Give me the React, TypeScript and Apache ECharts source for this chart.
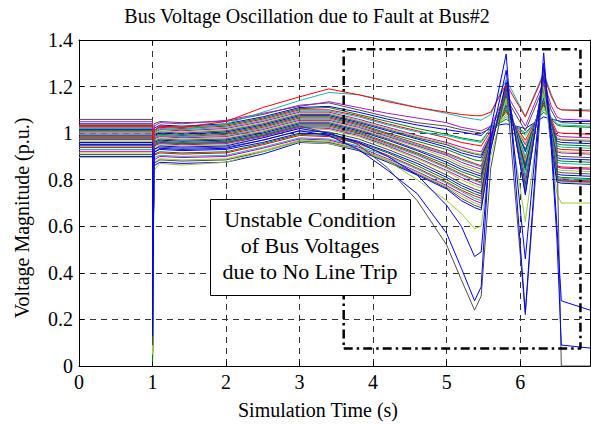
import React, { useEffect, useRef } from "react";
import * as echarts from "echarts";

// Sample instants (s) after the fault is applied at FAULT_TIME
const FAULT_TIME = 1.0;
const TIME_AFTER = [1.02, 1.1, 1.4, 2.0, 2.5, 3.0, 3.4, 3.8, 4.2, 4.6, 5.0, 5.2, 5.38, 5.47, 5.6, 5.81, 6.07, 6.32, 6.42, 6.5, 6.56, 6.95];

// Each bus: [pre-fault voltage, voltage during fault, ...voltages at TIME_AFTER] (p.u.)
const BUS_01 = [1.040, 0.15, 1.02, 1.035, 1.03, 1.04, 1.07, 1.11, 1.115, 1.09, 1.06, 1.035, 1.015, 1.005, 0.995, 0.99, 1.03, 1.04, 1.02, 1.07, 1.06, 1.055, 1.05, 1.05];
const BUS_02 = [1.035, 0.05, 1.01, 1.03, 1.025, 1.035, 1.065, 1.105, 1.11, 1.08, 1.05, 1.02, 0.995, 0.98, 0.97, 0.965, 1.02, 1.06, 1.0, 1.09, 1.06, 1.035, 1.03, 1.025];
const BUS_03 = [1.032, 0.2, 1.01, 1.025, 1.02, 1.03, 1.06, 1.1, 1.1, 1.075, 1.04, 1.01, 0.98, 0.96, 0.95, 0.945, 1.01, 1.09, 0.97, 1.12, 1.06, 1.005, 1.0, 0.995];
const BUS_04 = [1.028, 0.1, 1.005, 1.02, 1.015, 1.025, 1.055, 1.095, 1.095, 1.07, 1.035, 1.005, 0.99, 0.975, 0.965, 0.96, 1.02, 1.07, 0.99, 1.1, 1.07, 1.04, 1.035, 1.03];
const BUS_05 = [1.025, 0.08, 1.0, 1.015, 1.01, 1.02, 1.05, 1.09, 1.09, 1.06, 1.025, 0.99, 0.96, 0.94, 0.925, 0.92, 1.0, 1.1, 0.95, 1.13, 1.05, 0.99, 0.985, 0.98];
const BUS_06 = [1.022, 0.12, 1.0, 1.01, 1.005, 1.015, 1.045, 1.085, 1.085, 1.055, 1.02, 0.985, 0.955, 0.93, 0.915, 0.91, 0.995, 1.08, 0.96, 1.11, 1.04, 0.98, 0.975, 0.97];
const BUS_07 = [1.018, 0.03, 0.995, 1.005, 1.0, 1.01, 1.04, 1.08, 1.08, 1.05, 1.015, 0.98, 0.95, 0.925, 0.91, 0.905, 0.99, 1.11, 0.93, 1.14, 1.05, 0.975, 0.97, 0.965];
const BUS_08 = [1.015, 0.18, 0.99, 1.0, 0.995, 1.005, 1.035, 1.075, 1.075, 1.045, 1.01, 0.975, 0.94, 0.915, 0.9, 0.895, 0.99, 1.12, 0.92, 1.15, 1.04, 0.965, 0.96, 0.955];
const BUS_09 = [1.012, 0.04, 0.985, 0.995, 0.99, 1.0, 1.03, 1.07, 1.07, 1.04, 1.0, 0.965, 0.93, 0.905, 0.885, 0.88, 0.985, 1.1, 0.93, 1.13, 1.03, 0.955, 0.95, 0.945];
const BUS_10 = [1.008, 0.22, 0.98, 0.99, 0.985, 0.995, 1.025, 1.065, 1.065, 1.035, 0.995, 0.955, 0.915, 0.89, 0.87, 0.86, 0.98, 1.14, 0.89, 1.17, 1.03, 0.935, 0.93, 0.925];
const BUS_11 = [1.005, 0.09, 0.98, 0.99, 0.985, 0.99, 1.02, 1.06, 1.06, 1.03, 0.99, 0.95, 0.91, 0.885, 0.865, 0.855, 0.975, 1.13, 0.9, 1.16, 1.03, 0.945, 0.94, 0.935];
const BUS_12 = [1.0, 0.11, 0.975, 0.985, 0.98, 0.985, 1.015, 1.055, 1.055, 1.025, 0.985, 0.945, 0.905, 0.875, 0.855, 0.845, 0.975, 1.15, 0.87, 1.18, 1.02, 0.92, 0.915, 0.91];
const BUS_13 = [0.996, 0.06, 0.97, 0.98, 0.975, 0.98, 1.01, 1.05, 1.05, 1.02, 0.98, 0.94, 0.895, 0.865, 0.845, 0.835, 0.97, 1.14, 0.88, 1.17, 1.02, 0.925, 0.92, 0.915];
const BUS_14 = [0.992, 0.14, 0.965, 0.975, 0.97, 0.975, 1.005, 1.045, 1.045, 1.015, 0.975, 0.93, 0.885, 0.855, 0.835, 0.825, 0.97, 1.16, 0.86, 1.19, 1.02, 0.905, 0.9, 0.895];
const BUS_15 = [0.988, 0.19, 0.96, 0.97, 0.965, 0.97, 1.0, 1.04, 1.04, 1.01, 0.97, 0.925, 0.875, 0.845, 0.825, 0.815, 0.965, 1.17, 0.85, 1.2, 1.01, 0.895, 0.89, 0.885];
const BUS_16 = [0.984, 0.02, 0.955, 0.965, 0.96, 0.965, 0.995, 1.035, 1.035, 1.005, 0.96, 0.915, 0.865, 0.835, 0.815, 0.805, 0.965, 1.16, 0.84, 1.19, 1.0, 0.885, 0.88, 0.875];
const BUS_17 = [0.98, 0.24, 0.95, 0.96, 0.955, 0.96, 0.99, 1.03, 1.03, 1.0, 0.955, 0.91, 0.855, 0.825, 0.8, 0.79, 0.96, 1.19, 0.8, 1.22, 0.99, 0.86, 0.855, 0.85];
const BUS_18 = [0.976, 0.07, 0.95, 0.96, 0.955, 0.96, 0.99, 1.03, 1.025, 0.995, 0.95, 0.905, 0.85, 0.82, 0.795, 0.785, 0.96, 1.18, 0.82, 1.21, 1.0, 0.875, 0.87, 0.865];
const BUS_19 = [0.972, 0.13, 0.945, 0.955, 0.95, 0.955, 0.985, 1.025, 1.02, 0.99, 0.945, 0.895, 0.84, 0.81, 0.785, 0.775, 0.955, 1.19, 0.8, 1.22, 0.99, 0.855, 0.85, 0.845];
const BUS_20 = [0.965, 0.05, 0.94, 0.95, 0.945, 0.95, 0.98, 1.02, 1.015, 0.985, 0.94, 0.89, 0.835, 0.8, 0.775, 0.765, 0.955, 1.2, 0.79, 1.23, 0.98, 0.845, 0.84, 0.835];
const BUS_21 = [0.958, 0.16, 0.93, 0.94, 0.935, 0.94, 0.97, 1.01, 1.005, 0.975, 0.93, 0.88, 0.82, 0.785, 0.76, 0.75, 0.95, 1.19, 0.78, 1.22, 0.98, 0.835, 0.83, 0.825];
const BUS_22 = [0.95, 0.17, 0.92, 0.93, 0.925, 0.93, 0.96, 1.0, 0.995, 0.965, 0.92, 0.87, 0.81, 0.775, 0.75, 0.74, 0.95, 1.2, 0.77, 1.23, 0.97, 0.825, 0.82, 0.815];
const BUS_23 = [0.945, 0.03, 0.91, 0.92, 0.915, 0.92, 0.955, 0.995, 0.99, 0.96, 0.915, 0.86, 0.8, 0.765, 0.74, 0.73, 0.945, 1.2, 0.76, 1.23, 0.97, 0.815, 0.81, 0.805];
const BUS_24 = [0.938, 0.21, 0.905, 0.915, 0.91, 0.915, 0.95, 0.99, 0.985, 0.955, 0.905, 0.85, 0.79, 0.755, 0.73, 0.72, 0.945, 1.21, 0.75, 1.24, 0.96, 0.805, 0.8, 0.795];
const BUS_25 = [0.93, 0.1, 0.895, 0.905, 0.9, 0.905, 0.94, 0.98, 0.975, 0.945, 0.9, 0.845, 0.785, 0.75, 0.72, 0.71, 0.94, 1.2, 0.76, 1.23, 0.97, 0.81, 0.805, 0.8];
const BUS_26 = [0.922, 0.12, 0.885, 0.9, 0.895, 0.9, 0.935, 0.975, 0.97, 0.94, 0.89, 0.835, 0.775, 0.74, 0.71, 0.7, 0.94, 1.21, 0.745, 1.24, 0.96, 0.8, 0.795, 0.79];
const BUS_27 = [0.915, 0.06, 0.875, 0.89, 0.885, 0.89, 0.925, 0.97, 0.965, 0.935, 0.885, 0.83, 0.77, 0.73, 0.7, 0.69, 0.935, 1.22, 0.74, 1.25, 0.96, 0.795, 0.79, 0.785];
const BUS_28 = [0.908, 0.15, 0.87, 0.885, 0.88, 0.885, 0.92, 0.965, 0.96, 0.93, 0.88, 0.825, 0.765, 0.72, 0.69, 0.68, 0.935, 1.21, 0.745, 1.24, 0.96, 0.8, 0.795, 0.79];
const BUS_29 = [0.9, 0.2, 0.86, 0.875, 0.87, 0.875, 0.91, 0.96, 0.955, 0.925, 0.875, 0.82, 0.76, 0.71, 0.68, 0.67, 0.93, 1.22, 0.735, 1.25, 0.95, 0.79, 0.785, 0.78];

// Buses that stay highest through the swing
const BUS_HIGH_RED = [1.03, 0.2, 1.01, 1.03, 1.025, 1.05, 1.11, 1.156, 1.19, 1.165, 1.135, 1.11, 1.09, 1.08, 1.075, 1.075, 1.09, 1.21, 1.07, 1.25, 1.16, 1.11, 1.1, 1.095];
const BUS_HIGH_CYAN = [1.02, 0.1, 1.0, 1.02, 1.015, 1.04, 1.09, 1.14, 1.175, 1.165, 1.14, 1.11, 1.085, 1.07, 1.06, 1.056, 1.08, 1.23, 1.073, 1.26, 1.17, 1.11, 1.1, 1.1];
const BUS_HIGH_PURPLE = [1.049, 0.12, 1.03, 1.045, 1.04, 1.055, 1.085, 1.115, 1.135, 1.11, 1.085, 1.065, 1.045, 1.025, 1.015, 1.01, 1.03, 1.17, 1.03, 1.22, 1.12, 1.07, 1.06, 1.055];
const BUS_HIGH_GRAY = [1.059, 0.05, 1.04, 1.05, 1.045, 1.05, 1.08, 1.12, 1.13, 1.1, 1.07, 1.045, 1.03, 1.015, 1.005, 1.0, 1.02, 1.15, 1.01, 1.2, 1.1, 1.055, 1.045, 1.04];

// Buses that collapse during the oscillation
const BUS_LOW_GRAY = [0.975, 0.09, 0.95, 0.96, 0.955, 0.96, 0.99, 1.03, 1.0, 0.95, 0.85, 0.71, 0.52, 0.37, 0.24, 0.3, 0.85, 1.2, 0.22, 1.28, 1.05, 0.95, 0.0, 0.0];
const BUS_LOW_BLUE_A = [0.95, 0.16, 0.915, 0.935, 0.93, 0.935, 0.97, 1.01, 0.99, 0.93, 0.84, 0.74, 0.57, 0.42, 0.28, 0.34, 1.02, 1.34, 0.23, 1.345, 0.95, 0.55, 0.09, 0.077];
const BUS_LOW_BLUE_B = [0.96, 0.13, 0.93, 0.945, 0.94, 0.945, 0.98, 1.02, 1.0, 0.96, 0.9, 0.82, 0.69, 0.6, 0.47, 0.49, 0.97, 1.27, 0.46, 1.3, 1.0, 0.6, 0.28, 0.24];
const BUS_LOW_YELLOW = [0.895, 0.05, 0.84, 0.87, 0.863, 0.875, 0.92, 0.963, 0.955, 0.93, 0.88, 0.8, 0.71, 0.655, 0.59, 0.6, 0.9, 1.15, 0.62, 1.2, 0.95, 0.74, 0.7, 0.7];

const MAIN_BUSES = [
  BUS_01, BUS_02, BUS_03, BUS_04, BUS_05, BUS_06, BUS_07, BUS_08, BUS_09, BUS_10,
  BUS_11, BUS_12, BUS_13, BUS_14, BUS_15, BUS_16, BUS_17, BUS_18, BUS_19, BUS_20,
  BUS_21, BUS_22, BUS_23, BUS_24, BUS_25, BUS_26, BUS_27, BUS_28, BUS_29,
];
const LINE_COLORS = ["#0000ff", "#008000", "#ff0000", "#00bfbf", "#bf00bf", "#9acd32", "#4d4d4d"];

const HIGH_BUSES = [BUS_HIGH_GRAY, BUS_HIGH_PURPLE, BUS_HIGH_CYAN, BUS_HIGH_RED];
const HIGH_COLORS = ["#4d4d4d", "#a020c0", "#20b0b0", "#ff0000"];
const LOW_BUSES = [BUS_LOW_YELLOW, BUS_LOW_GRAY, BUS_LOW_BLUE_B, BUS_LOW_BLUE_A];
const LOW_COLORS = ["#9acd32", "#4d4d4d", "#0000ff", "#0000ff"];

// Highlighted region (dash-dot frame), in seconds / p.u.
const FRAME_TIME = [3.6, 6.82, 6.82, 3.6, 3.6];
const FRAME_VOLT = [0.075, 0.075, 1.36, 1.36, 0.075];

const X_MIN = 0;
const X_MAX = 6.95;
const Y_MIN = 0;
const Y_MAX = 1.4;

const TITLE = "Bus Voltage Oscillation due to Fault at Bus#2";
const X_NAME = "Simulation Time (s)";
const Y_NAME = "Voltage Magnitude (p.u.)";
const NOTE_LINES = ["Unstable Condition", "of Bus Voltages", "due to No Line Trip"];

const FONT = "Liberation Serif, Times New Roman, serif";

function busSeries(bus: number[], color: string) {
  const data: number[][] = [
    [X_MIN, bus[0]],
    [FAULT_TIME, bus[0]],
    [FAULT_TIME, bus[1]],
    ...TIME_AFTER.map((t, k) => [t, bus[k + 2]]),
  ];
  return {
    type: "line",
    data,
    symbol: "none",
    silent: true,
    clip: true,
    lineStyle: { width: 1, color },
    emphasis: { disabled: true },
  };
}

export default function App() {
  const ref = useRef<HTMLDivElement>(null);

  useEffect(() => {
    if (!ref.current) return;
    const chart = echarts.init(ref.current, undefined, { renderer: "svg" });

    const series: any[] = [
      ...MAIN_BUSES.map((b, i) => busSeries(b, LINE_COLORS[i % LINE_COLORS.length])),
      ...HIGH_BUSES.map((b, i) => busSeries(b, HIGH_COLORS[i])),
      ...LOW_BUSES.map((b, i) => busSeries(b, LOW_COLORS[i])),
      {
        type: "line",
        data: FRAME_TIME.map((t, i) => [t, FRAME_VOLT[i]]),
        symbol: "none",
        silent: true,
        z: 5,
        lineStyle: { width: 2.5, color: "#000", type: [9, 4, 2.5, 4] },
      },
    ];

    const tickLabel = {
      color: "#000",
      fontFamily: FONT,
      fontSize: 20,
    };

    chart.setOption({
      animation: false,
      backgroundColor: "#fff",
      grid: { left: 79, top: 40, width: 511, height: 326, containLabel: false },
      xAxis: [
        {
          type: "value",
          min: X_MIN,
          max: X_MAX,
          interval: 1,
          position: "bottom",
          axisLine: { onZero: false, lineStyle: { color: "#000", width: 1 } },
          axisTick: { inside: true, length: 5, lineStyle: { color: "#000" } },
          axisLabel: {
            ...tickLabel,
            margin: 6,
            showMaxLabel: false,
            formatter: (v: number) => (Number.isInteger(v) ? String(v) : ""),
          },
          splitLine: { show: true, lineStyle: { color: "#333", width: 1, type: [6, 5] } },
        },
        {
          type: "value",
          min: X_MIN,
          max: X_MAX,
          interval: 1,
          position: "top",
          axisLine: { onZero: false, lineStyle: { color: "#000", width: 1 } },
          axisTick: { inside: true, length: 5, lineStyle: { color: "#000" } },
          axisLabel: { show: false },
          splitLine: { show: false },
        },
      ],
      yAxis: [
        {
          type: "value",
          min: Y_MIN,
          max: Y_MAX,
          interval: 0.2,
          position: "left",
          axisLine: { show: true, onZero: false, lineStyle: { color: "#000", width: 1 } },
          axisTick: { show: true, inside: true, length: 5, lineStyle: { color: "#000" } },
          axisLabel: { ...tickLabel, margin: 6 },
          splitLine: { show: true, lineStyle: { color: "#333", width: 1, type: [6, 5] } },
        },
        {
          type: "value",
          min: Y_MIN,
          max: Y_MAX,
          interval: 0.2,
          position: "right",
          axisLine: { show: true, onZero: false, lineStyle: { color: "#000", width: 1 } },
          axisTick: { show: true, inside: true, length: 5, lineStyle: { color: "#000" } },
          axisLabel: { show: false },
          splitLine: { show: false },
        },
      ],
      series,
      graphic: [
        {
          type: "text",
          x: 307,
          y: 16,
          z: 100,
          style: { text: TITLE, font: `20px ${FONT}`, fill: "#000", textAlign: "center", textVerticalAlign: "middle" },
        },
        {
          type: "text",
          x: 318,
          y: 410,
          z: 100,
          style: { text: X_NAME, font: `20px ${FONT}`, fill: "#000", textAlign: "center", textVerticalAlign: "middle" },
        },
        {
          type: "text",
          x: 22,
          y: 218,
          rotation: Math.PI / 2,
          z: 100,
          style: { text: Y_NAME, font: `20px ${FONT}`, fill: "#000", textAlign: "center", textVerticalAlign: "middle" },
        },
        {
          type: "rect",
          shape: { x: 210.5, y: 199.5, width: 200, height: 96 },
          z: 100,
          style: { fill: "#fff", stroke: "#000", lineWidth: 1 },
        },
        {
          type: "text",
          x: 310,
          y: 245,
          z: 101,
          style: {
            text: NOTE_LINES.join("\n"),
            font: `22px ${FONT}`,
            lineHeight: 26,
            fill: "#000",
            textAlign: "center",
            textVerticalAlign: "middle",
          },
        },
      ],
    });

    return () => chart.dispose();
  }, []);

  return (
    <div
      ref={ref}
      style={{ position: "fixed", left: 0, top: 0, width: 591, height: 425, background: "#fff" }}
    />
  );
}
